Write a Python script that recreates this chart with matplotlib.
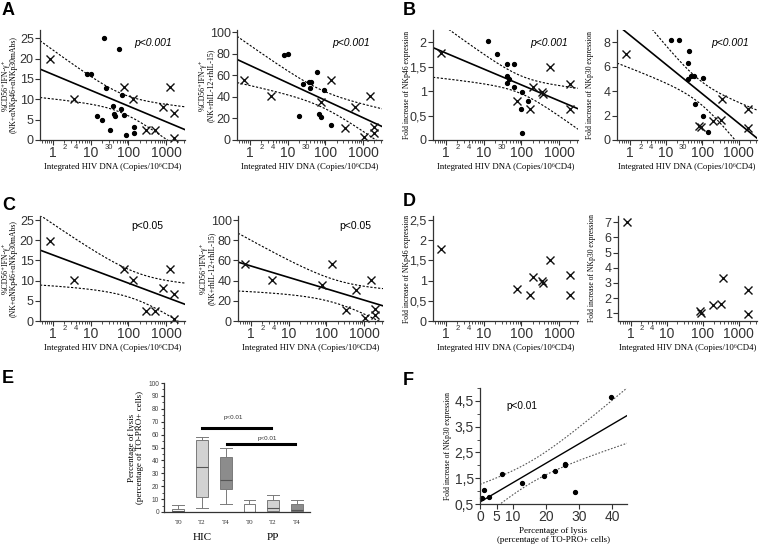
import numpy as np
import matplotlib
matplotlib.use('Agg')
import matplotlib.pyplot as plt
from matplotlib.ticker import FixedLocator, FuncFormatter, LogLocator, MultipleLocator

plt.rcParams['font.family'] = ['Liberation Sans', 'DejaVu Sans']
SERIF = ['Liberation Serif', 'DejaVu Serif']

# ---- data ----
# A / C : %CD56+IFNg+ (NK + anti-NKp46 + anti-NKp30 mAbs)
hic_dna_a1 = [23, 57, 8, 10.5, 26, 66, 40, 64, 15, 42, 44, 76, 20, 33, 89, 139, 139]
hic_ifn_a1 = [25, 22.3, 16.3, 16.3, 12.8, 11, 8.3, 7.6, 6.0, 6.5, 6.0, 6.1, 4.8, 2.5, 1.2, 1.6, 3.3]
pp_dna_a1 = [0.85, 3.7, 76, 134, 294, 505, 850, 1260, 1620, 1620]
pp_ifn_a1 = [19.8, 10.1, 13, 10.1, 2.5, 2.5, 8.1, 13, 6.7, 0.6]

# A / C : %CD56+IFNg+ (NK + rhIL-12 + rhIL-15)
hic_dna_a2 = [7.8, 10.2, 26, 37, 42, 40, 60, 94, 20, 68, 79, 143]
hic_ifn_a2 = [79, 80, 52, 54, 54, 48, 63, 46, 22.5, 24.5, 21.5, 14]
pp_dna_a2 = [0.68, 3.55, 79, 140, 325, 615, 1070, 1520, 1960, 1960]
pp_ifn_a2 = [56, 40.5, 35.6, 56, 10.8, 30.3, 3, 41, 11.8, 6.2]

# B / D : fold increase of NKp46
hic_dna_b1 = [13.2, 22.7, 42, 63, 42, 47, 42, 64, 106, 154, 97, 106]
hic_nkp46 = [2.03, 1.76, 1.56, 1.56, 1.31, 1.24, 1.16, 1.08, 0.99, 0.80, 0.63, 0.15]
pp_dna_b1 = [0.73, 79, 170, 200, 355, 380, 590, 2000, 2000]
pp_nkp46 = [1.78, 0.80, 0.64, 1.08, 0.99, 0.95, 1.50, 1.15, 0.64]

# B / D : fold increase of NKp30
hic_dna_b2 = [13.9, 23.5, 42.5, 41, 41, 48, 61, 106, 65, 106, 148]
hic_nkp30 = [8.2, 8.2, 7.3, 6.3, 5.0, 5.2, 5.25, 5.08, 2.97, 2.0, 0.63]
pp_dna_b2 = [0.82, 83, 90, 196, 318, 355, 1780, 1780]
pp_nkp30 = [7.0, 1.18, 1.04, 1.54, 1.65, 3.32, 2.55, 0.99]

# E : percentage of lysis, box statistics
box_groups = ['T0', 'T2', 'T4', 'T0', 'T2', 'T4']
box_low = [0, 3, 6, 0, 0, 0]
box_q1 = [0, 12, 18, 0, 0.5, 1]
box_med = [0.5, 35, 25, 0.3, 3, 1.5]
box_q3 = [2.5, 56, 43, 6.5, 9.5, 6.5]
box_high = [5.5, 58.5, 50, 9, 13.5, 9]
box_colors = ['white', '#d2d2d2', '#8c8c8c', 'white', '#d2d2d2', '#8c8c8c']

# F : lysis vs NKp30 (the point at ~29 % lies off the drawn fit)
lysis = [0.6, 1.2, 2.8, 6.7, 12.8, 19.3, 22.6, 25.7, 25.8, 28.8, 39.7]
nkp30_f = [0.72, 1.04, 0.78, 1.67, 1.33, 1.57, 1.79, 2.0, 2.04, 0.97, 4.67]
in_fit_f = [1, 1, 1, 1, 1, 1, 1, 1, 1, 0, 1]


def t975(df):
    z = 1.959964
    return (z + (z**3 + z) / 4 / df + (5*z**5 + 16*z**3 + 3*z) / 96 / df**2
            + (3*z**7 + 19*z**5 + 17*z**3 - 15*z) / 384 / df**3)


def fit_band(u, y, us):
    u = np.asarray(u, float)
    y = np.asarray(y, float)
    n = len(u)
    b, a = np.polyfit(u, y, 1)
    s = np.sqrt(np.sum((y - a - b*u)**2) / (n - 2))
    se = s * np.sqrt(1/n + (us - u.mean())**2 / np.sum((u - u.mean())**2))
    yh = a + b*us
    t = t975(n - 2)
    return yh, yh - t*se, yh + t*se


def px(l, t, r, b):
    return [l/760, 1 - b/547, (r - l)/760, (b - t)/547]


def comma(v, p):
    return ('%g' % v).replace('.', ',')


def style(ax):
    for s in ['top', 'right']:
        ax.spines[s].set_visible(False)
    for s in ['left', 'bottom']:
        ax.spines[s].set_color('#333333')
        ax.spines[s].set_linewidth(0.9)
    ax.tick_params(which='major', direction='out', length=3.5, width=0.8,
                   colors='#333333', labelsize=10, pad=1.0)
    ax.tick_params(which='minor', direction='out', length=2, width=0.6,
                   colors='#333333', labelsize=5.5, pad=1.2)


XLIM = (0.45, 3200)


def hiv_panel(rect, hx, hy, cx, cy, ylim, yticks, ylabel, small, ptext,
              pstyle, fit=True, ysize=5.6, comma_fmt=False):
    ax = fig.add_axes(rect)
    style(ax)
    ax.tick_params(axis='y', labelsize=9)
    ax.set_xscale('log')
    ax.set_xlim(*XLIM)
    ax.set_ylim(*ylim)
    ax.xaxis.set_major_locator(FixedLocator([1, 10, 100, 1000]))
    ax.xaxis.set_major_formatter(FuncFormatter(lambda v, p: '%d' % round(v)))
    ax.xaxis.set_minor_locator(LogLocator(base=10, subs=np.arange(2, 10), numticks=20))
    ax.xaxis.set_minor_formatter(FuncFormatter(
        lambda v, p: '%d' % round(v) if any(np.isclose(v, s) for s in small) else ''))
    ax.yaxis.set_major_locator(FixedLocator(yticks))
    if comma_fmt:
        ax.yaxis.set_major_formatter(FuncFormatter(comma))
    xs = np.logspace(np.log10(XLIM[0]), np.log10(XLIM[1]), 200)
    if fit:
        allx = list(hx) + list(cx)
        ally = list(hy) + list(cy)
        yh, lo, hi = fit_band(np.log10(allx), ally, np.log10(xs))
        ax.plot(xs, yh, color='black', lw=1.2)
        ax.plot(xs, lo, color='black', lw=0.8, ls=(0, (2, 1.5)))
        ax.plot(xs, hi, color='black', lw=0.8, ls=(0, (2, 1.5)))
    if len(hx):
        ax.plot(hx, hy, 'o', ms=2.8, color='black', clip_on=False)
    ax.plot(cx, cy, 'x', ms=5.5, mew=1.0, color='#111111', clip_on=False)
    ax.set_xlabel('Integrated HIV DNA (Copies/10\u2076CD4)', family=SERIF,
                  fontsize=6.3, labelpad=2)
    ax.set_ylabel(ylabel, family=SERIF, fontsize=ysize, linespacing=0.95)
    ax.yaxis.set_label_coords(-22.5 / (rect[2] * 760), 0.5)
    if ptext:
        ax.text(pstyle[0], pstyle[1], ptext, transform=ax.transAxes,
                fontsize=7.5, style=pstyle[2])
    return ax


fig = plt.figure(figsize=(7.6, 5.47), dpi=100)

lab1 = '%CD56\u207aIFN-\u03b3\u207a\n(NK+\u03b1NKp46+\u03b1NKp30mAbs)'
lab2 = '%CD56\u207aIFN-\u03b3\u207a\n(NK+rhIL-12+rhIL-15)'
lab46 = 'Fold increase of NKp46 expression'
lab30 = 'Fold increase of NKp30 expression'
row1 = (30, 140)
row2 = (216, 321)

# row 1: A and B
hiv_panel(px(40, row1[0], 185, row1[1]), hic_dna_a1, hic_ifn_a1, pp_dna_a1, pp_ifn_a1,
          (0, 27), [0, 5, 10, 15, 20, 25], lab1, [2, 4, 30], 'p<0.001', (0.65, 0.85, 'italic'))
hiv_panel(px(237, row1[0], 382, row1[1]), hic_dna_a2, hic_ifn_a2, pp_dna_a2, pp_ifn_a2,
          (0, 102), [0, 20, 40, 60, 80, 100], lab2, [2, 4, 30], 'p<0.001', (0.66, 0.85, 'italic'))
hiv_panel(px(433, row1[0], 578, row1[1]), hic_dna_b1, hic_nkp46, pp_dna_b1, pp_nkp46,
          (0, 2.25), [0, 0.5, 1, 1.5, 2], lab46, [2, 4, 30], 'p<0.001', (0.67, 0.85, 'italic'),
          ysize=5.5, comma_fmt=True)
hiv_panel(px(617, row1[0], 757, row1[1]), hic_dna_b2, hic_nkp30, pp_dna_b2, pp_nkp30,
          (0, 9), [0, 2, 4, 6, 8], lab30, [2, 4, 30], 'p<0.001', (0.67, 0.85, 'italic'),
          ysize=5.5)

# row 2: C and D (PP only)
hiv_panel(px(40, row2[0], 185, row2[1]), [], [], pp_dna_a1, pp_ifn_a1,
          (0, 26), [0, 5, 10, 15, 20, 25], lab1, [2, 4], 'p<0.05', (0.63, 0.88, 'normal'))
hiv_panel(px(238, row2[0], 383, row2[1]), [], [], pp_dna_a2, pp_ifn_a2,
          (0, 104), [0, 20, 40, 60, 80, 100], lab2, [2, 4], 'p<0.05', (0.70, 0.88, 'normal'))
hiv_panel(px(433, row2[0], 578, row2[1]), [], [], pp_dna_b1, pp_nkp46,
          (0, 2.6), [0, 0.5, 1, 1.5, 2, 2.5], lab46, [2, 4], None, None, fit=False,
          ysize=5.5, comma_fmt=True)
hiv_panel(px(618, row2[0], 757, row2[1]), [], [], pp_dna_b2, pp_nkp30,
          (0.5, 7.4), [1, 2, 3, 4, 5, 6, 7], lab30, [2, 4], None, None, fit=False,
          ysize=5.5)

# E: box plots
axe = fig.add_axes(px(164, 383, 310, 512))
style(axe)
stats = [dict(whislo=box_low[i], q1=box_q1[i], med=box_med[i], q3=box_q3[i],
              whishi=box_high[i], fliers=[]) for i in range(len(box_groups))]
pos = np.arange(1, len(box_groups) + 1)
bp = axe.bxp(stats, positions=pos, widths=0.5, capwidths=0.5, patch_artist=True,
             showfliers=False,
             boxprops=dict(edgecolor='#7a7a7a', lw=0.7),
             medianprops=dict(color='#555555', lw=0.8),
             whiskerprops=dict(color='#7a7a7a', lw=0.7),
             capprops=dict(color='#7a7a7a', lw=0.7))
for patch, c in zip(bp['boxes'], box_colors):
    patch.set_facecolor(c)
axe.set_xlim(0.4, 6.55)
axe.set_ylim(0, 100)
axe.set_xticks(pos)
axe.set_xticklabels(box_groups, family=SERIF, fontsize=5)
axe.tick_params(axis='x', length=0, pad=6)
axe.yaxis.set_major_locator(MultipleLocator(10))
axe.yaxis.set_minor_locator(MultipleLocator(5))
axe.tick_params(axis='y', which='major', labelsize=4.8, length=2.5, labelcolor='#444444')
axe.tick_params(axis='y', which='minor', length=1.5)
axe.set_ylabel('Percentage of lysis\n(percentage of TO-PRO+ cells)', family=SERIF,
               fontsize=6.5, labelpad=3, linespacing=1.0)
axe.plot([2, 4.9], [65.5, 65.5], color='black', lw=2.2)
axe.plot([3.05, 5.9], [52.5, 52.5], color='black', lw=2.2)
axe.text(3.3, 72, 'p<0.01', fontsize=4.5, ha='center', color='#333333')
axe.text(4.75, 56, 'p<0.01', fontsize=4.5, ha='center', color='#333333')
axe.text(2, -0.2, 'HIC', transform=axe.get_xaxis_transform(), family=SERIF,
         fontsize=8, ha='center', va='center')
axe.text(5, -0.2, 'PP', transform=axe.get_xaxis_transform(), family=SERIF,
         fontsize=8, ha='center', va='center')

# F: NKp30 vs lysis
axf = fig.add_axes(px(480, 388, 627, 504))
style(axf)
axf.set_xlim(0, 44.5)
axf.set_ylim(0.5, 5.0)
xs = np.linspace(0, 44.5, 200)
sel = np.array(in_fit_f, bool)
yh, lo, hi = fit_band(np.array(lysis)[sel], np.array(nkp30_f)[sel], xs)
axf.plot(xs, yh, color='black', lw=1.0)
axf.plot(xs, lo, color='#555555', lw=0.8, ls=(0, (1.5, 1.5)))
axf.plot(xs, hi, color='#555555', lw=0.8, ls=(0, (1.5, 1.5)))
axf.plot(lysis, nkp30_f, 'o', ms=2.8, color='black', clip_on=False)
axf.xaxis.set_major_locator(FixedLocator([0, 5, 10, 20, 30, 40]))
axf.yaxis.set_major_locator(FixedLocator([0.5, 1.5, 2.5, 3.5, 4.5]))
axf.yaxis.set_minor_locator(FixedLocator([1, 2, 3, 4, 5]))
axf.yaxis.set_major_formatter(FuncFormatter(comma))
axf.set_xlabel('Percentage of lysis\n(percentage of TO-PRO+ cells)', family=SERIF,
               fontsize=6.5, labelpad=2, linespacing=1.1)
axf.set_ylabel(lab30, family=SERIF, fontsize=5.5, labelpad=2)
axf.text(0.18, 0.82, 'p<0.01', transform=axf.transAxes, fontsize=7.2)

# panel letters
for letter, x, y in [('A', 2, 2), ('B', 403, 2), ('C', 2, 197), ('D', 403, 193),
                     ('E', 2, 370), ('F', 403, 372)]:
    fig.text(x/760, 1 - y/547, letter, fontsize=13, fontweight='bold', va='top')

fig.savefig('out.png', dpi=100)
